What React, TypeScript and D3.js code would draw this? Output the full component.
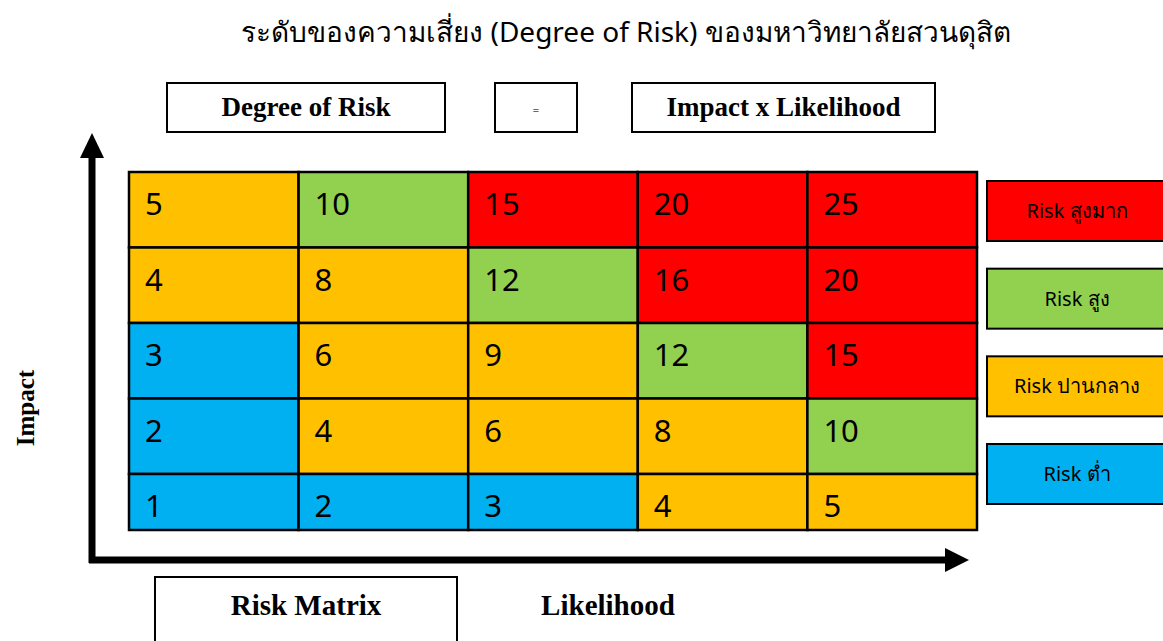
import React from "react";
import * as d3 from "d3";

// ---- data ----
const title = "ระดับของความเสี่ยง  (Degree of Risk) ของมหาวิทยาลัยสวนดุสิต";
const likelihoodLevels = [1, 2, 3, 4, 5];
const impactLevels = [5, 4, 3, 2, 1];
// degree of risk read from the matrix, rows = impact 5..1, columns = likelihood 1..5
const degreeValues = [
  [5, 10, 15, 20, 25],
  [4, 8, 12, 16, 20],
  [3, 6, 9, 12, 15],
  [2, 4, 6, 8, 10],
  [1, 2, 3, 4, 5],
];
const riskLevels = ["veryHigh", "high", "medium", "low"];
const riskLabels = ["Risk สูงมาก", "Risk สูง", "Risk ปานกลาง", "Risk ต่ำ"];
const riskColors = ["#FF0000", "#92D050", "#FFC000", "#00B0F0"];
const cellLevels = [
  ["medium", "high", "veryHigh", "veryHigh", "veryHigh"],
  ["medium", "medium", "high", "veryHigh", "veryHigh"],
  ["low", "medium", "medium", "high", "veryHigh"],
  ["low", "medium", "medium", "medium", "high"],
  ["low", "low", "low", "medium", "medium"],
];
const formulaTexts = ["Degree of Risk", "=", "Impact x Likelihood"];

const W = 1163;
const H = 641;

export default function App() {
  const x = d3.scaleLinear().domain([0, 5]).range([129, 977]);
  const y = d3.scaleLinear().domain([0, 1, 5]).range([530, 474, 172]);
  const color = d3.scaleOrdinal<string, string>().domain(riskLevels).range(riskColors);
  const legendY = d3.scalePoint<string>().domain(riskLevels).range([211, 474]);

  const serif = "'Liberation Serif', 'DejaVu Serif', serif";
  const sans = "'Noto Sans', 'DejaVu Sans', Tahoma, sans-serif";

  const cells: JSX.Element[] = [];
  impactLevels.forEach((imp, ri) => {
    likelihoodLevels.forEach((lk, ci) => {
      const x0 = x(lk - 1);
      const x1 = x(lk);
      const y0 = y(imp);
      const y1 = y(imp - 1);
      cells.push(
        <g key={`${ri}-${ci}`}>
          <rect x={x0} y={y0} width={x1 - x0} height={y1 - y0}
            fill={color(cellLevels[ri][ci])} stroke="#000" strokeWidth={2.5} />
          <text x={x0 + 16} y={y0 + 43} fontFamily={sans} fontSize={31} fill="#000">
            {degreeValues[ri][ci]}
          </text>
        </g>
      );
    });
  });

  const topBoxes = [
    { x: 167, w: 278 },
    { x: 495, w: 82 },
    { x: 632, w: 303 },
  ];

  return (
    <svg width={W} height={H} style={{ position: "absolute", left: 0, top: 0, background: "#fff" }}>
      <rect x={0} y={0} width={W} height={H} fill="#fff" />
      <text x={626} y={42} textAnchor="middle" fontFamily={sans} fontSize={28} fill="#000">
        {title}
      </text>

      {topBoxes.map((b, i) => (
        <g key={i}>
          <rect x={b.x} y={83} width={b.w} height={49} fill="#fff" stroke="#000" strokeWidth={2} />
          <text x={b.x + b.w / 2} y={i === 1 ? 114 : 116} textAnchor="middle"
            fontFamily={i === 1 ? sans : serif}
            fontWeight={i === 1 ? "normal" : "bold"}
            fontSize={i === 1 ? 11 : 27}
            fill={i === 1 ? "#666" : "#000"}>
            {formulaTexts[i]}
          </text>
        </g>
      ))}

      {/* axes arrows */}
      <line x1={92} y1={563} x2={92} y2={150} stroke="#000" strokeWidth={7} />
      <polygon points="80,158 104,158 92,133" fill="#000" />
      <line x1={89} y1={560} x2={950} y2={560} stroke="#000" strokeWidth={7} />
      <polygon points="945,548 945,572 969,560" fill="#000" />

      {cells}

      {riskLevels.map((lv, i) => {
        const cy = legendY(lv) as number;
        return (
          <g key={lv}>
            <rect x={987} y={cy - 30} width={185} height={60} fill={riskColors[i]} stroke="#000" strokeWidth={2} />
            <text x={1077} y={cy + 7} textAnchor="middle" fontFamily={sans} fontSize={20} fill="#000">
              {riskLabels[i]}
            </text>
          </g>
        );
      })}

      <text transform="translate(34,408) rotate(-90)" textAnchor="middle"
        fontFamily={serif} fontWeight="bold" fontSize={25} fill="#000">Impact</text>

      <rect x={155} y={577} width={302} height={80} fill="#fff" stroke="#000" strokeWidth={2} />
      <text x={306} y={615} textAnchor="middle" fontFamily={serif} fontWeight="bold" fontSize={29} fill="#000">
        Risk Matrix
      </text>
      <text x={608} y={615} textAnchor="middle" fontFamily={serif} fontWeight="bold" fontSize={29} fill="#000">
        Likelihood
      </text>
    </svg>
  );
}
